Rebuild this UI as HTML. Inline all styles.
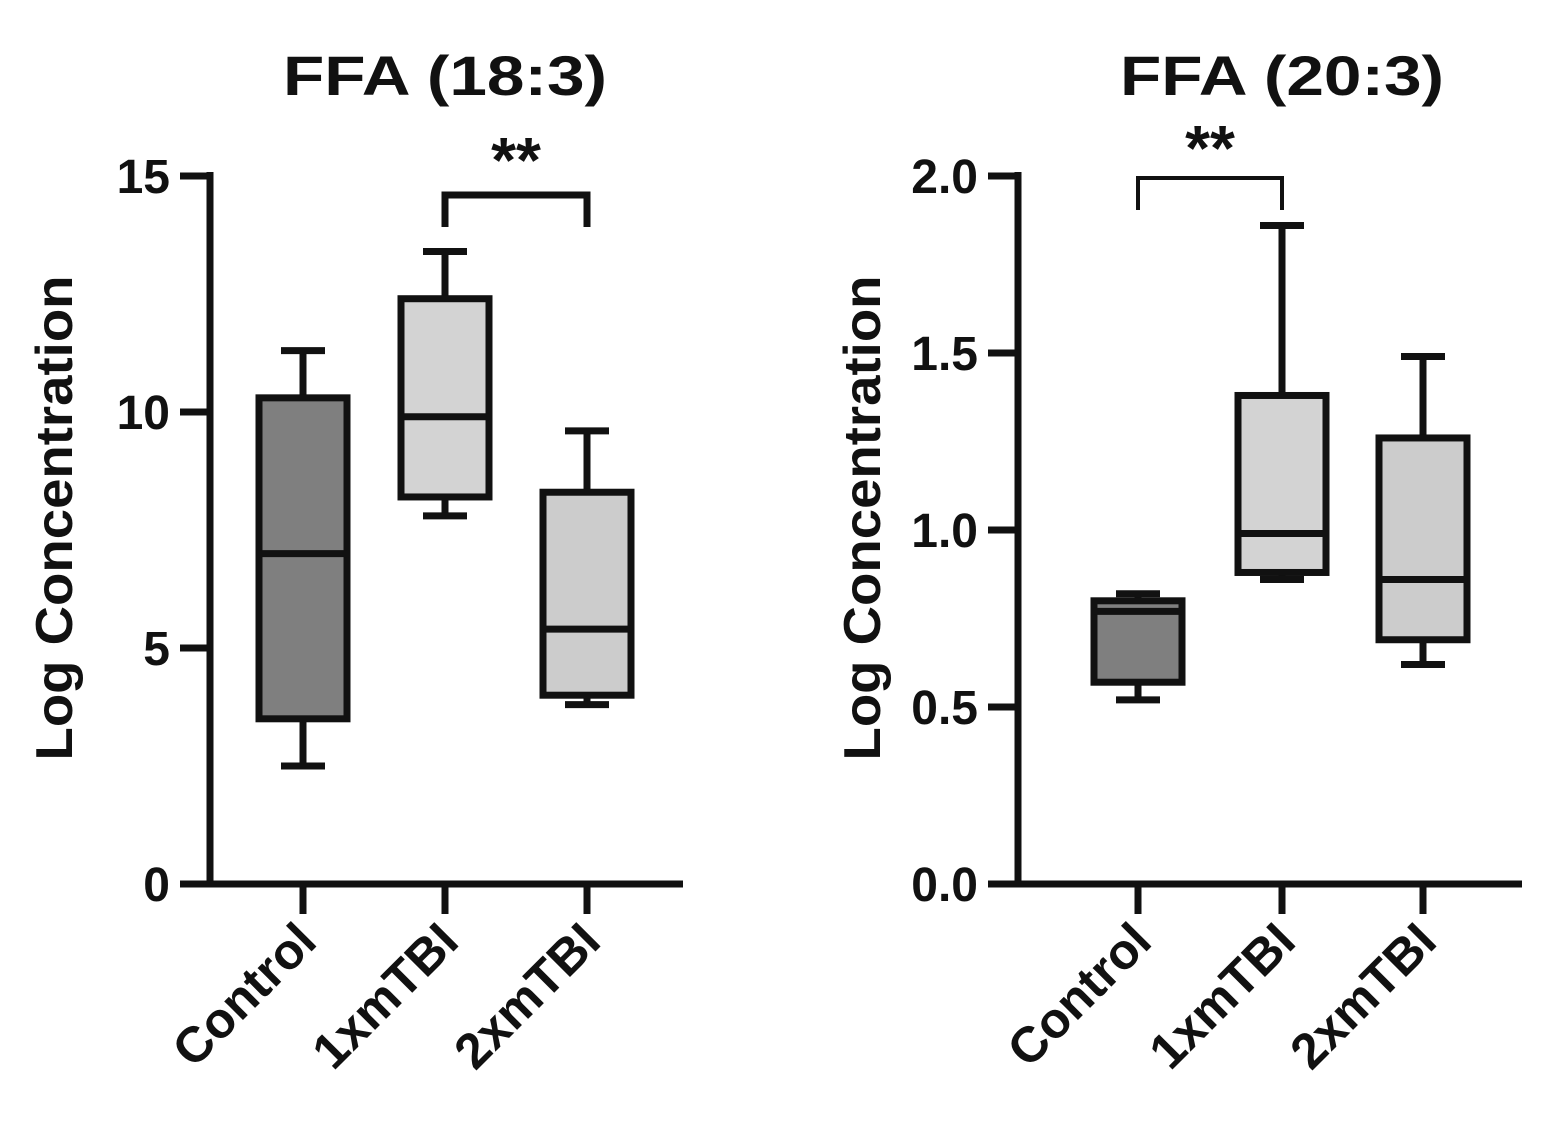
<!DOCTYPE html>
<html><head><meta charset="utf-8"><style>
body{margin:0;background:#fff}
svg text{font-family:"Liberation Sans",Arial,sans-serif;font-weight:bold;fill:#111}
</style></head><body>
<svg width="1551" height="1135" viewBox="0 0 1551 1135" id="fig"></svg>
<script>
const categories = ["Control","1xmTBI","2xmTBI"];
const leftTicks = [0,5,10,15];
const leftWhiskerLow = [2.5,7.8,3.8];
const leftQ1 = [3.5,8.2,4.0];
const leftMedian = [7.0,9.9,5.4];
const leftQ3 = [10.3,12.4,8.3];
const leftWhiskerHigh = [11.3,13.4,9.6];
const rightTicks = [0.0,0.5,1.0,1.5,2.0];
const rightWhiskerLow = [0.52,0.86,0.62];
const rightQ1 = [0.57,0.88,0.69];
const rightMedian = [0.77,0.99,0.86];
const rightQ3 = [0.80,1.38,1.26];
const rightWhiskerHigh = [0.82,1.86,1.49];
const fills = ["#7f7f7f","#d3d3d3","#cccccc"];

const NS="http://www.w3.org/2000/svg";
const svg=document.getElementById('fig');
function mk(tag,attrs,parent){const e=document.createElementNS(NS,tag);for(const k in attrs)e.setAttribute(k,attrs[k]);(parent||svg).appendChild(e);return e;}

function panel(cfg){
  const g=mk('g',{});
  
  
  const y=v=>cfg.y0-(v-cfg.min)/(cfg.max-cfg.min)*(cfg.y0-cfg.y1);
  const x=i=>cfg.xs[i];
  const sw=7;
  const t=mk('text',{x:cfg.titleX,y:95,'font-size':56,'text-anchor':'middle',textLength:324,lengthAdjust:'spacingAndGlyphs'},g);t.textContent=cfg.title;
  
  const yt=mk('text',{transform:`translate(${cfg.ax-138},${(cfg.y0+cfg.y1)/2-12}) rotate(-90)`,'font-size':52,'text-anchor':'middle',textLength:485,lengthAdjust:'spacingAndGlyphs'},g);yt.textContent="Log Concentration";
  
  const ya=mk('line',{x1:cfg.ax,y1:cfg.y1-4,x2:cfg.ax,y2:cfg.y0+sw/2,stroke:'#111','stroke-width':sw},g);
  
  const xa=mk('line',{x1:cfg.ax-3,y1:cfg.y0,x2:cfg.axEnd,y2:cfg.y0,stroke:'#111','stroke-width':sw},g);
  
  cfg.ticks.forEach(v=>{
    const tk=mk('line',{x1:cfg.ax-30,y1:y(v),x2:cfg.ax,y2:y(v),stroke:'#111','stroke-width':sw},g);
    
    const tl=mk('text',{x:cfg.ax-40,y:y(v)+17,'font-size':48,'text-anchor':'end'},g);tl.textContent=cfg.fmt(v);
    
  });
  categories.forEach((c,i)=>{
    const tk=mk('line',{x1:x(i),y1:cfg.y0,x2:x(i),y2:cfg.y0+30,stroke:'#111','stroke-width':sw},g);
    
    const tl=mk('text',{transform:`translate(${x(i)+16},${cfg.y0+60}) rotate(-45)`,'font-size':50,'text-anchor':'end'},g);tl.textContent=c;
    
    const hw=44;
    const w=mk('line',{x1:x(i),y1:y(cfg.wl[i]),x2:x(i),y2:y(cfg.wh[i]),stroke:'#111','stroke-width':sw},g);
    
    [cfg.wl[i],cfg.wh[i]].forEach(v=>{
      const cap=mk('line',{x1:x(i)-22,y1:y(v),x2:x(i)+22,y2:y(v),stroke:'#111','stroke-width':sw},g);
      
    });
    const b=mk('rect',{x:x(i)-hw,y:y(cfg.q3[i]),width:2*hw,height:y(cfg.q1[i])-y(cfg.q3[i]),fill:fills[i],stroke:'#111','stroke-width':sw},g);
    
    const m=mk('line',{x1:x(i)-hw,y1:y(cfg.md[i]),x2:x(i)+hw,y2:y(cfg.md[i]),stroke:'#111','stroke-width':sw},g);
    
  });
  const [a,bb]=cfg.sig;
  const br=mk('path',{d:`M${x(a)},${cfg.sigY+32} V${cfg.sigY} H${x(bb)} V${cfg.sigY+32}`,fill:'none',stroke:'#111','stroke-width':cfg.sigW},g);
  
  const st=mk('text',{x:(x(a)+x(bb))/2,y:cfg.starY,'font-size':64,'text-anchor':'middle'},g);st.textContent="**";
  
}
panel({name:'panel-ffa-18-3',title:'FFA (18:3)',titleX:445,ax:210,axEnd:683,y0:884,y1:176,min:0,max:15,xs:[303,445,587],
  ticks:leftTicks,fmt:v=>String(v),wl:leftWhiskerLow,q1:leftQ1,md:leftMedian,q3:leftQ3,wh:leftWhiskerHigh,sig:[1,2],sigY:195,sigW:7,starY:182});
panel({name:'panel-ffa-20-3',title:'FFA (20:3)',titleX:1282,ax:1018,axEnd:1522,y0:884,y1:176,min:0,max:2,xs:[1138,1282,1423],
  ticks:rightTicks,fmt:v=>v.toFixed(1),wl:rightWhiskerLow,q1:rightQ1,md:rightMedian,q3:rightQ3,wh:rightWhiskerHigh,sig:[0,1],sigY:178,sigW:4,starY:170});
</script>
</body></html>
